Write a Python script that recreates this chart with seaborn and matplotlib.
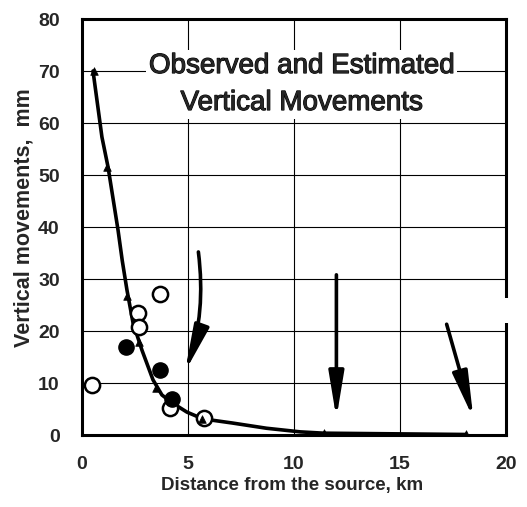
import matplotlib
matplotlib.use("Agg")
import matplotlib.pyplot as plt
import matplotlib.patheffects as pe
import seaborn as sns
import pandas as pd
from matplotlib.patches import Rectangle

# ---- data ----
curve_x = [0.52, 0.94, 1.23, 1.70, 1.90, 2.12, 2.41, 2.83, 3.35, 3.77, 4.25, 4.95, 5.70, 7.10, 8.70, 10.3, 11.4, 18.1]
curve_y = [70.0, 57.3, 51.5, 39.4, 33.5, 27.9, 21.5, 16.3, 10.6, 7.7, 6.2, 4.4, 3.1, 2.3, 1.3, 0.6, 0.35, 0.1]

est_x = [0.55, 1.2, 2.1, 2.7, 3.5, 4.2, 5.65, 11.4, 18.1]
est_y = [70.0, 51.5, 26.8, 17.8, 9.0, 6.5, 3.0, 0.35, 0.1]

open_x = [0.46, 3.69, 2.63, 2.71, 4.16, 5.75]
open_y = [9.7, 27.2, 23.5, 20.7, 5.1, 3.2]

filled_x = [2.08, 3.70, 4.25]
filled_y = [17.0, 12.5, 6.9]

x_ticks = [0, 5, 10, 15, 20]
y_ticks = [0, 10, 20, 30, 40, 50, 60, 70, 80]

title_lines = ["Observed and Estimated", "Vertical Movements"]
x_label = "Distance from the source, km"
y_label = "Vertical movements,  mm"

# ---- style ----
sns.set_style("white")
plt.rcParams["font.family"] = ["Liberation Sans", "DejaVu Sans"]

fig = plt.figure(figsize=(5.27, 5.07), dpi=100)
ax = fig.add_axes([82 / 527, 72 / 507, 424 / 527, 416 / 507])

# grid
for xv in x_ticks[1:-1]:
    ax.axvline(xv, color="black", lw=0.8, zorder=1)
for yv in y_ticks[1:-1]:
    ax.axhline(yv, color="black", lw=0.8, zorder=1)

# curve
curve_df = pd.DataFrame({"x": curve_x, "y": curve_y})
sns.lineplot(data=curve_df, x="x", y="y", sort=False, estimator=None,
             color="black", lw=2.6, ax=ax, zorder=3)

# observed points
open_df = pd.DataFrame({"x": open_x, "y": open_y})
sns.scatterplot(data=open_df, x="x", y="y", s=120, marker="o",
                facecolor="white", edgecolor="black", linewidth=1.8, ax=ax, zorder=4)
filled_df = pd.DataFrame({"x": filled_x, "y": filled_y})
sns.scatterplot(data=filled_df, x="x", y="y", s=120, marker="o",
                color="black", edgecolor="black", linewidth=1.0, ax=ax, zorder=4)

# estimated points (triangles)
est_df = pd.DataFrame({"x": est_x, "y": est_y})
sns.scatterplot(data=est_df, x="x", y="y", s=30, marker="^",
                color="black", edgecolor="black", linewidth=0.5, ax=ax, zorder=5)

# arrows
arrow_kw = dict(arrowstyle="-|>,head_length=2.3,head_width=0.38", color="black",
                lw=2.6, shrinkA=0, shrinkB=0, mutation_scale=12)
ax.annotate("", xy=(4.86, 12.2), xytext=(5.49, 35.2),
            arrowprops=dict(connectionstyle="arc3,rad=-0.12", **arrow_kw), zorder=6)
ax.annotate("", xy=(12.0, 3.2), xytext=(12.0, 30.8),
            arrowprops=dict(connectionstyle="arc3,rad=0", **arrow_kw), zorder=6)
ax.annotate("", xy=(18.46, 3.2), xytext=(17.2, 21.3),
            arrowprops=dict(connectionstyle="arc3,rad=0", **arrow_kw), zorder=6)

# title inside
ax.text(10.35, 67.4, "\n".join(title_lines), ha="center", va="center",
        fontsize=20, linespacing=1.55, zorder=7,
        path_effects=[pe.withStroke(linewidth=0.8, foreground="black")],
        bbox=dict(facecolor="white", edgecolor="none", pad=2))

ax.set_xlim(0, 20)
ax.set_ylim(0, 80)
ax.set_xticks(x_ticks)
ax.set_yticks(y_ticks)
ax.tick_params(length=0, labelsize=14)
for lab in ax.get_xticklabels() + ax.get_yticklabels():
    lab.set_fontweight("bold")
ax.tick_params(axis="x", pad=15)
ax.tick_params(axis="y", pad=16)

ax.set_xlabel(x_label, fontsize=13.5, fontweight="bold")
ax.set_ylabel(y_label, fontsize=15.5, fontweight="bold")
ax.xaxis.set_label_coords(0.496, -0.10)
ax.yaxis.set_label_coords(-0.113, 0.523)

for sp in ax.spines.values():
    sp.set_visible(True)
    sp.set_color("black")
    sp.set_linewidth(2.2)

# gap in the right frame (scan artefact)
ax.add_patch(Rectangle((19.9, 21.5), 0.5, 4.8, facecolor="white", edgecolor="none",
                       transform=ax.transData, clip_on=False, zorder=10))

fig.savefig("out.png", dpi=100)
